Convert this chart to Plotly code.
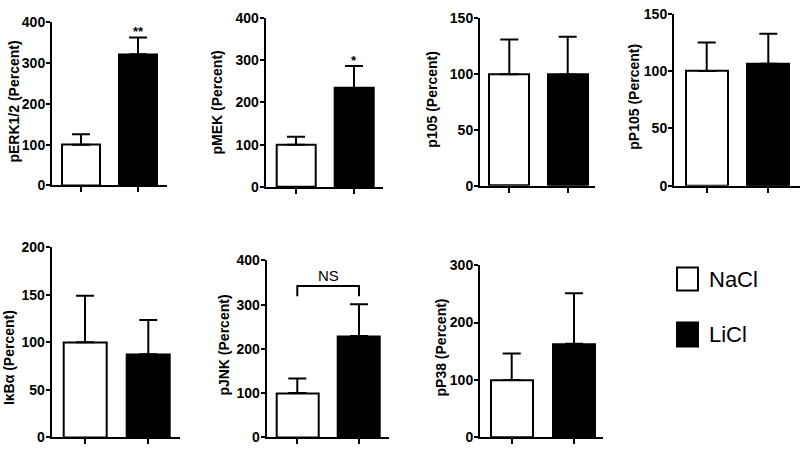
import plotly.graph_objects as go

# ---------------- data ----------------
panel_titles = ["pERK1/2 (Percent)", "pMEK (Percent)", "p105 (Percent)", "pP105 (Percent)",
                "IκBα (Percent)", "pJNK (Percent)", "pP38 (Percent)"]
groups = ["NaCl", "LiCl"]
nacl_mean = [100, 100, 100, 100, 100, 100, 100]
nacl_sem = [26, 19, 31, 25, 49, 33, 46]
licl_mean = [322, 234, 99.6, 106.5, 87.5, 229, 163]
licl_sem = [41, 52, 34, 26, 36, 72, 88]
y_max = [400, 400, 150, 150, 200, 400, 300]
y_step = [100, 100, 50, 50, 50, 100, 100]
significance = ["**", "*", "", "", "", "NS", ""]
sig_level = [379, 298, None, None, None, 342, None]

# ---------------- layout geometry (pixels) ----------------
W, H = 800, 451
axis_left = [52, 265.7, 480, 674, 51.7, 266.7, 480]
tick0 = [81, 296, 509.3, 706.7, 85, 297.3, 511.7]
tick_sp = [57, 58, 58.4, 61.6, 63.3, 61.7, 62.3]
axis_right = [167, 382.7, 595, 800, 180, 389, 603]
top_px = [15, 10, 10.7, 6, 248.3, 261.7, 266.7]
bottom_px = [184, 185.7, 184.3, 184.3, 445, 445, 445]
title_x = [14, 217, 432, 634, 9, 224, 441]
title_y = [97, 98, 95, 92, 363, 350, 352]

FONT = "Liberation Sans"
fill = ["white", "black"]

fig = go.Figure()
annotations = []
shapes = []

for i in range(7):
    xa = "x" if i == 0 else f"x{i+1}"
    ya = "y" if i == 0 else f"y{i+1}"
    means = [nacl_mean[i], licl_mean[i]]
    sems = [nacl_sem[i], licl_sem[i]]
    for g in range(2):
        fig.add_trace(go.Bar(
            x=[g], y=[means[g]], name=groups[g], showlegend=False,
            width=0.68,
            marker=dict(color=fill[g], line=dict(color="black", width=2)),
            error_y=dict(type="data", symmetric=False, array=[sems[g]], arrayminus=[0],
                         color="black", thickness=2, width=9),
            xaxis=xa, yaxis=ya,
        ))
    x0 = (axis_left[i] - tick0[i]) / tick_sp[i]
    x1 = (axis_right[i] - tick0[i]) / tick_sp[i]
    key_x = "xaxis" if i == 0 else f"xaxis{i+1}"
    key_y = "yaxis" if i == 0 else f"yaxis{i+1}"
    fig.layout[key_x] = dict(
        domain=[axis_left[i] / W, min(axis_right[i] / W, 1)], range=[x0, x1],
        anchor=ya, showline=True, linecolor="black", linewidth=2,
        ticks="outside", ticklen=5, tickwidth=2, tickcolor="black",
        tickvals=[0, 1], ticktext=["", ""], showgrid=False, zeroline=False, fixedrange=True,
    )
    fig.layout[key_y] = dict(
        domain=[1 - bottom_px[i] / H, 1 - top_px[i] / H], range=[0, y_max[i]],
        anchor=xa, showline=True, linecolor="black", linewidth=2,
        ticks="outside", ticklen=4, tickwidth=2, tickcolor="black",
        ticklabelstandoff=-2,
        tick0=0, dtick=y_step[i], showgrid=False, zeroline=False,
        tickfont=dict(family=FONT, size=14, color="black", weight="bold"),
    )
    annotations.append(dict(
        text=panel_titles[i], xref="paper", yref="paper",
        x=title_x[i] / W, y=1 - title_y[i] / H, textangle=-90,
        xanchor="center", yanchor="middle", showarrow=False,
        font=dict(family=FONT, size=14, color="black", weight="bold"),
    ))
    s = significance[i]
    if s in ("*", "**"):
        annotations.append(dict(
            text=s, xref=xa, yref=ya, x=1, y=sig_level[i], showarrow=False,
            xanchor="center", yanchor="middle",
            font=dict(family=FONT, size=13, color="black", weight="bold"),
        ))
    elif s == "NS":
        lvl = sig_level[i]
        drop = 23
        shapes.append(dict(type="path", xref=xa, yref=ya,
                           path=f"M 0 {lvl-drop} L 0 {lvl} L 1 {lvl} L 1 {lvl-drop}",
                           line=dict(color="black", width=2)))
        annotations.append(dict(
            text="NS", xref=xa, yref=ya, x=0.5, y=lvl + 25, showarrow=False,
            xanchor="center", yanchor="middle",
            font=dict(family=FONT, size=15, color="black"),
        ))

# legend drawn manually
legend_box_x = (677, 698)
legend_box_y = [(269, 293), (326, 351)]
for g in range(2):
    y0, y1 = legend_box_y[g]
    shapes.append(dict(type="rect", xref="paper", yref="paper",
                       x0=legend_box_x[0] / W, x1=legend_box_x[1] / W,
                       y0=1 - y1 / H, y1=1 - y0 / H,
                       fillcolor=fill[g], line=dict(color="black", width=2)))
    annotations.append(dict(
        text=groups[g], xref="paper", yref="paper", x=707 / W, y=1 - ((y0 + y1) / 2) / H,
        xanchor="left", yanchor="middle", showarrow=False,
        font=dict(family=FONT, size=22, color="black"),
    ))

fig.update_layout(
    width=W, height=H, autosize=False,
    margin=dict(l=0, r=0, t=0, b=0),
    paper_bgcolor="white", plot_bgcolor="white",
    barmode="group", bargap=0,
    annotations=annotations, shapes=shapes,
    showlegend=False,
)

fig.write_html("out.html", config={"displayModeBar": False},
               post_script="document.body.style.margin='0';document.body.style.overflow='hidden';")
